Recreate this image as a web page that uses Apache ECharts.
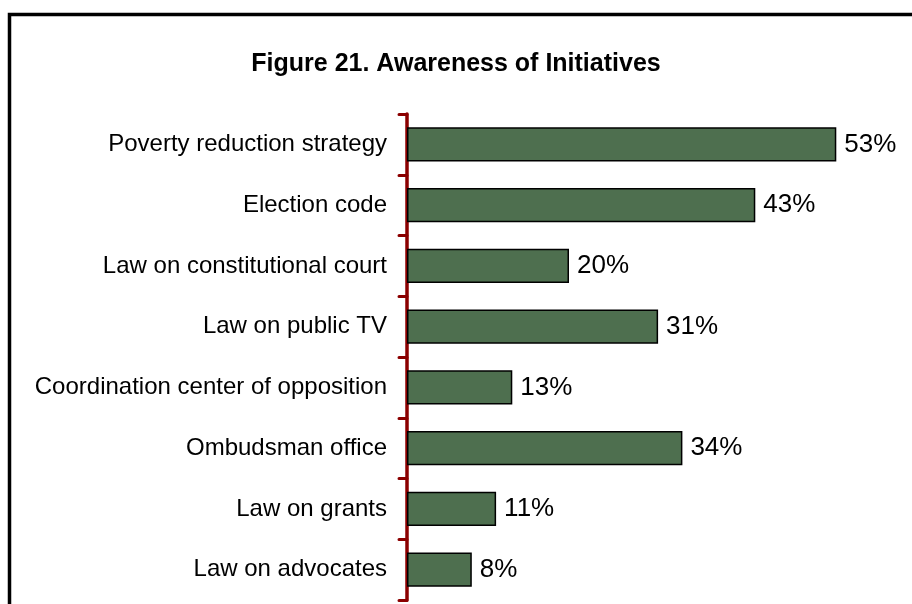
<!DOCTYPE html>
<html><head><meta charset="utf-8">
<script src="https://cdn.jsdelivr.net/npm/echarts@6/dist/echarts.min.js"></script>
<style>html,body{margin:0;padding:0;background:#fff}#c{width:912px;height:604px}</style>
</head><body><div id="c"></div>
<script>
const categories = ["Poverty reduction strategy","Election code","Law on constitutional court","Law on public TV","Coordination center of opposition","Ombudsman office","Law on grants","Law on advocates"];
const values = [53,43,20,31,13,34,11,8];
const titleText = "Figure 21. Awareness of Initiatives";

const chart = echarts.init(document.getElementById('c'), null, {renderer:'canvas'});
chart.setOption({
  animation:false,
  backgroundColor:'#fff',
  title:{text:titleText,left:'center',top:47,textStyle:{fontFamily:'Liberation Sans, Arial',fontWeight:'bold',fontSize:25,color:'#000'}},
  graphic:[{type:'rect',shape:{x:9.5,y:14.5,width:1000,height:700},style:{fill:null,stroke:'#000',lineWidth:3.5},silent:true,z:100}],
  grid:{left:407,right:19,top:114,bottom:4,containLabel:false},
  xAxis:{type:'value',min:0,max:60,show:false},
  yAxis:{type:'category',data:categories,inverse:true,
    axisLine:{show:true,lineStyle:{color:'#8B0000',width:3.5}},
    axisTick:{show:true,length:8,lineStyle:{color:'#8B0000',width:3,cap:'round'}},
    axisLabel:{fontFamily:'Liberation Sans, Arial',fontSize:24,color:'#000',margin:20,padding:[3,0,0,0]}},
  series:[{type:'bar',data:values,barWidth:'56%',
    itemStyle:{color:'#4E6F4F',borderColor:'#000',borderWidth:1.5},
    label:{show:true,position:'right',distance:8,formatter:'{c}%',fontFamily:'Liberation Sans, Arial',fontSize:26,color:'#000'}}]
});
</script></body></html>
